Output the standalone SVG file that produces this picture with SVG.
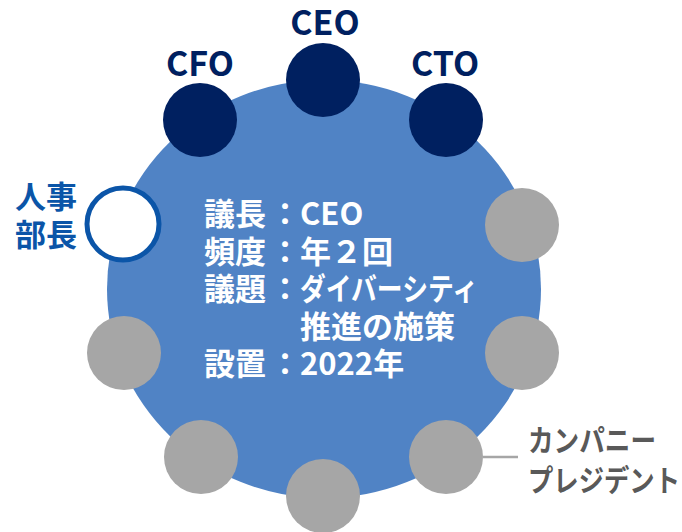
<svg xmlns="http://www.w3.org/2000/svg" width="682" height="532" viewBox="0 0 682 532">
<style>
text{font-family:"Noto Sans CJK JP","Noto Sans",sans-serif;font-weight:bold}
.exec{fill:#002060}
.member{fill:#A6A6A6}
.lbl-exec{font-size:34px;fill:#002060;text-anchor:middle}
.lbl-hr{font-size:31px;fill:#0B55A8}
.lbl-gray{font-size:30px;fill:#595959}
.info{font-size:31px;fill:#FFFFFF}
</style>
<g id="table">
<ellipse cx="324" cy="289" rx="217" ry="209" fill="#5083C5"/>
</g>
<g id="connectors">
<line x1="483" y1="457" x2="518" y2="457" stroke="#A6A6A6" stroke-width="2.5"/>
</g>
<g id="info">
<text class="info" x="204" y="225">議長</text>
<text class="info" x="285" y="225" text-anchor="middle">：</text>
<text class="info" x="300" y="225">CEO</text>
<text class="info" x="204" y="262.5">頻度</text>
<text class="info" x="285" y="262.5" text-anchor="middle">：</text>
<text class="info" x="300" y="262.5">年２回</text>
<text class="info" x="204" y="300">議題</text>
<text class="info" x="285" y="300" text-anchor="middle">：</text>
<text class="info" x="300" y="300" textLength="178" lengthAdjust="spacingAndGlyphs">ダイバーシティ</text>
<text class="info" x="300" y="337.5">推進の施策</text>
<text class="info" x="204" y="375">設置</text>
<text class="info" x="285" y="375" text-anchor="middle">：</text>
<text class="info" x="300" y="375">2022年</text>
</g>
<g id="ceo">
<circle class="exec" cx="323" cy="80" r="37"/>
<text class="lbl-exec" x="325" y="35">CEO</text>
</g>
<g id="cfo">
<circle class="exec" cx="200" cy="120" r="37"/>
<text class="lbl-exec" x="200" y="76">CFO</text>
</g>
<g id="cto">
<circle class="exec" cx="446" cy="120" r="37"/>
<text class="lbl-exec" x="445" y="76">CTO</text>
</g>
<g id="hr-head">
<circle cx="123" cy="224" r="36" fill="#FFFFFF" stroke="#0B55A8" stroke-width="5"/>
<text class="lbl-hr" x="15" y="208">人事</text>
<text class="lbl-hr" x="15" y="246">部長</text>
</g>
<g id="member-right-top">
<circle class="member" cx="522" cy="225" r="37"/>
</g>
<g id="member-left">
<circle class="member" cx="124" cy="353" r="37"/>
</g>
<g id="member-right">
<circle class="member" cx="522" cy="353" r="37"/>
</g>
<g id="member-bottom-left">
<circle class="member" cx="201" cy="457" r="37"/>
</g>
<g id="member-bottom">
<circle class="member" cx="323" cy="496" r="37"/>
</g>
<g id="company-president">
<circle class="member" cx="446" cy="457" r="37"/>
<text class="lbl-gray" x="528" y="451" textLength="128" lengthAdjust="spacingAndGlyphs">カンパニー</text>
<text class="lbl-gray" x="528" y="491" textLength="152" lengthAdjust="spacingAndGlyphs">プレジデント</text>
</g>
</svg>
